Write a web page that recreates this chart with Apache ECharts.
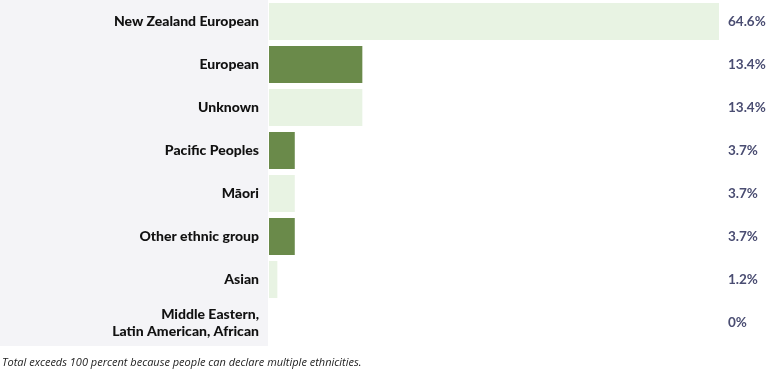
<!DOCTYPE html>
<html><head><meta charset="utf-8">
<script src="https://cdn.jsdelivr.net/npm/echarts@6/dist/echarts.min.js"></script>
<style>html,body{margin:0;padding:0;background:#fff}#c{width:770px;height:370px}</style>
</head><body><div id="c"></div>
<script>
const categories = ["New Zealand European","European","Unknown","Pacific Peoples","Māori","Other ethnic group","Asian","Middle Eastern,\nLatin American, African"];
const values = [64.6, 13.4, 13.4, 3.7, 3.7, 3.7, 1.2, 0];
const valueLabels = ["64.6%","13.4%","13.4%","3.7%","3.7%","3.7%","1.2%","0%"];
const footnote = "Total exceeds 100 percent because people can declare multiple ethnicities.";
const lightColor = "#e8f3e3", darkColor = "#6a8a4a";

const chart = echarts.init(document.getElementById('c'), null, {renderer:'canvas'});
chart.setOption({
  animation:false,
  graphic:[
    {type:'rect', left:0, top:0, shape:{width:268, height:346}, style:{fill:'#f4f4f7'}, z:-10, silent:true},
    {type:'text', left:2, top:357, style:{text:footnote, font:'italic 11px "Open Sans"', fill:'#222'}}
  ],
  grid:{left:269, right:51, top:0, bottom:26, containLabel:false},
  xAxis:{type:'value', min:0, max:64.6, show:false},
  yAxis:[
    {type:'category', data:categories, inverse:true, axisLine:{show:false}, axisTick:{show:false},
     axisLabel:{margin:10, color:'#111', fontFamily:'Lato', fontWeight:900, fontSize:14, align:'right', lineHeight:17}},
    {type:'category', data:valueLabels, inverse:true, position:'right', axisLine:{show:false}, axisTick:{show:false},
     axisLabel:{margin:9, color:'#4a4d72', fontFamily:'Lato', fontWeight:'bold', fontSize:13.5, align:'left'}}
  ],
  series:[{
    type:'bar', data:values.map((v,i)=>({value:v, itemStyle:{color: i%2===0?lightColor:darkColor}})),
    barCategoryGap:'14%', silent:true
  }]
});
</script></body></html>
